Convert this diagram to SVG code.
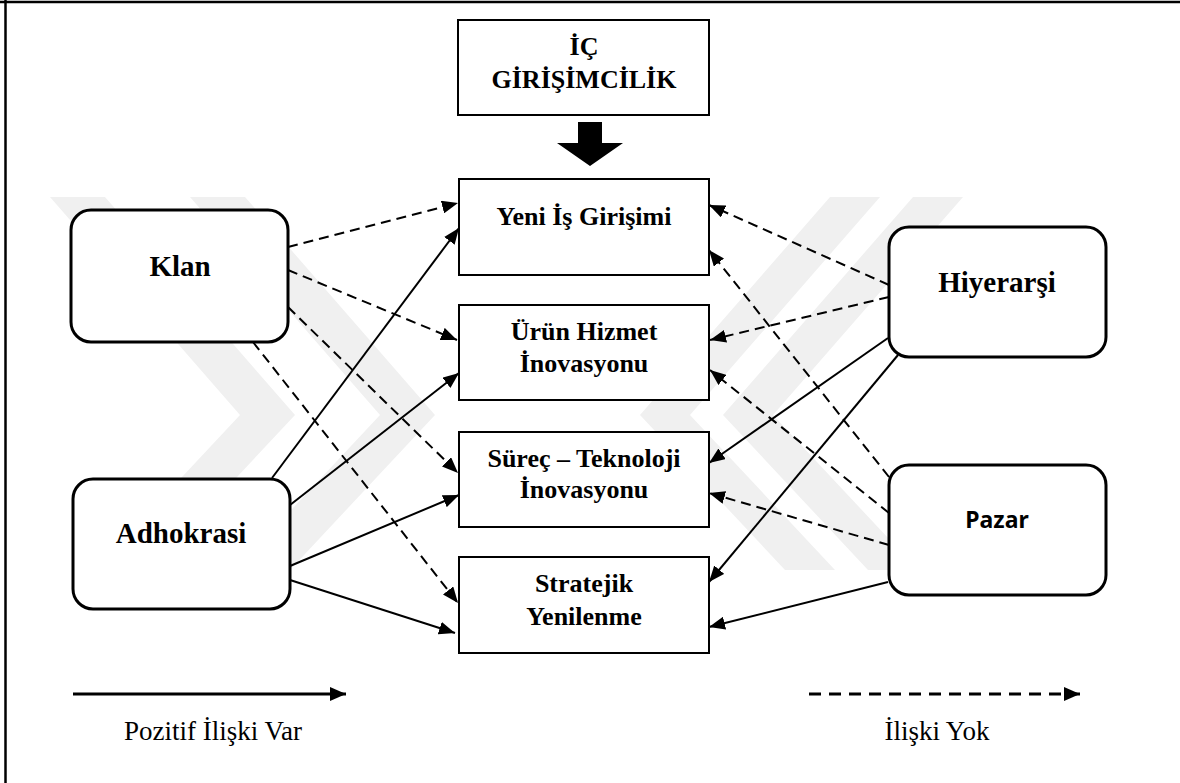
<svg xmlns="http://www.w3.org/2000/svg" width="1180" height="783" viewBox="0 0 1180 783">
  <defs>
    <style>
      .frame { stroke: #000; stroke-width: 2.5; fill: none; }
      .rbox { fill: #fff; stroke: #000; stroke-width: 3; }
      .sbox { fill: #fff; stroke: #000; stroke-width: 2; }
      .lbl { font-family: "Liberation Serif", "Times New Roman", serif; font-weight: bold; fill: #000; text-anchor: middle; }
      .big { font-size: 29px; }
      .mid { font-size: 26px; }
      .sans { font-family: "Noto Sans", "Open Sans", sans-serif; font-weight: bold; font-size: 23px; fill: #000; text-anchor: middle; }
      .leg { font-family: "Liberation Serif", "Times New Roman", serif; font-size: 27px; fill: #000; text-anchor: middle; }
      .solid { stroke: #000; stroke-width: 2; fill: none; marker-end: url(#head); }
      .dash { stroke: #000; stroke-width: 2; fill: none; stroke-dasharray: 10 6; marker-end: url(#head); }
      .wm { fill: #f0f0f0; }
    </style>
    <marker id="head" viewBox="0 0 16 13" refX="16" refY="6.5" markerWidth="16" markerHeight="13" markerUnits="userSpaceOnUse" orient="auto">
      <path d="M0,0 L16,6.5 L0,13 Z" fill="#000"/>
    </marker>
    <marker id="headL" viewBox="0 0 16 14" refX="16" refY="7" markerWidth="16" markerHeight="14" markerUnits="userSpaceOnUse" orient="auto">
      <path d="M0,0 L16,7 L0,14 Z" fill="#000"/>
    </marker>
  </defs>

  <rect width="1180" height="783" fill="#fff"/>

  <!-- page frame: top and left rules -->
  <line class="frame" x1="0" y1="2" x2="1180" y2="2"/>
  <line class="frame" x1="5.5" y1="0" x2="5.5" y2="783"/>

  <!-- faint background emblem -->
  <g id="emblem">
    <polygon class="wm" points="50,197 105,197 295,415 150,570 95,570 240,415"/>
    <polygon class="wm" points="190,197 245,197 435,415 290,570 235,570 380,415"/>
    <polygon class="wm" points="830,197 880,197 690,415 835,570 785,570 640,415"/>
    <polygon class="wm" points="913,197 963,197 773,415 918,570 868,570 723,415"/>
  </g>

  <!-- connectors -->
  <g id="connectors">
    <!-- Klan: no relation -->
    <line class="dash" x1="288" y1="247" x2="458" y2="203"/>
    <line class="dash" x1="288" y1="270" x2="457" y2="340"/>
    <line class="dash" x1="288" y1="307" x2="458" y2="473"/>
    <line class="dash" x1="253" y1="342" x2="458" y2="603"/>
    <!-- Adhokrasi: positive relation -->
    <line class="solid" x1="272" y1="478" x2="459" y2="228"/>
    <line class="solid" x1="290" y1="505" x2="459" y2="373"/>
    <line class="solid" x1="290" y1="566" x2="459" y2="495"/>
    <line class="solid" x1="290" y1="580" x2="455" y2="633"/>
    <!-- Hiyerarşi -->
    <line class="dash" x1="889" y1="285" x2="709" y2="205"/>
    <line class="dash" x1="889" y1="297" x2="710" y2="340"/>
    <line class="solid" x1="888" y1="338" x2="709" y2="463"/>
    <line class="solid" x1="898" y1="355" x2="709" y2="582"/>
    <!-- Pazar -->
    <line class="dash" x1="889" y1="477" x2="709" y2="250"/>
    <line class="dash" x1="889" y1="513" x2="710" y2="370"/>
    <line class="dash" x1="889" y1="545" x2="709" y2="493"/>
    <line class="solid" x1="888" y1="582" x2="709" y2="627"/>
  </g>

  <g id="ic-girisimcilik">
    <rect class="sbox" x="458" y="20" width="251" height="95"/>
    <text class="lbl mid" x="584" y="55">İÇ</text>
    <text class="lbl mid" x="584" y="88">GİRİŞİMCİLİK</text>
  </g>

  <g id="big-arrow">
    <polygon points="578,122 602,122 602,143 623,143 590,166 557,143 578,143" fill="#000"/>
  </g>

  <g id="yeni-is">
    <rect class="sbox" x="459" y="179" width="250" height="96"/>
    <text class="lbl mid" x="584" y="225">Yeni İş Girişimi</text>
  </g>
  <g id="urun-hizmet">
    <rect class="sbox" x="459" y="305" width="250" height="95"/>
    <text class="lbl mid" x="584" y="340">Ürün Hizmet</text>
    <text class="lbl mid" x="584" y="372">İnovasyonu</text>
  </g>
  <g id="surec-teknoloji">
    <rect class="sbox" x="459" y="432" width="250" height="95"/>
    <text class="lbl mid" x="584" y="467">Süreç – Teknoloji</text>
    <text class="lbl mid" x="584" y="498">İnovasyonu</text>
  </g>
  <g id="stratejik">
    <rect class="sbox" x="459" y="557" width="250" height="96"/>
    <text class="lbl mid" x="584" y="592">Stratejik</text>
    <text class="lbl mid" x="584" y="625">Yenilenme</text>
  </g>

  <g id="klan">
    <rect class="rbox" x="71" y="210" width="217" height="132" rx="20"/>
    <text class="lbl big" x="180" y="276">Klan</text>
  </g>
  <g id="adhokrasi">
    <rect class="rbox" x="73" y="479" width="217" height="130" rx="20"/>
    <text class="lbl big" x="181" y="543">Adhokrasi</text>
  </g>
  <g id="hiyerarsi">
    <rect class="rbox" x="889" y="227" width="217" height="130" rx="20"/>
    <text class="lbl big" x="997" y="292">Hiyerarşi</text>
  </g>
  <g id="pazar">
    <rect class="rbox" x="889" y="465" width="217" height="130" rx="20"/>
    <text class="sans" x="997" y="528">Pazar</text>
  </g>

  <!-- legend -->
  <g id="legend">
    <line x1="73" y1="694" x2="346" y2="694" stroke="#000" stroke-width="3" marker-end="url(#headL)"/>
    <text class="leg" x="213" y="740">Pozitif İlişki Var</text>
    <line x1="809" y1="694" x2="1080" y2="694" stroke="#000" stroke-width="3" stroke-dasharray="12 8" marker-end="url(#headL)"/>
    <text class="leg" x="937" y="740">İlişki Yok</text>
  </g>
</svg>
